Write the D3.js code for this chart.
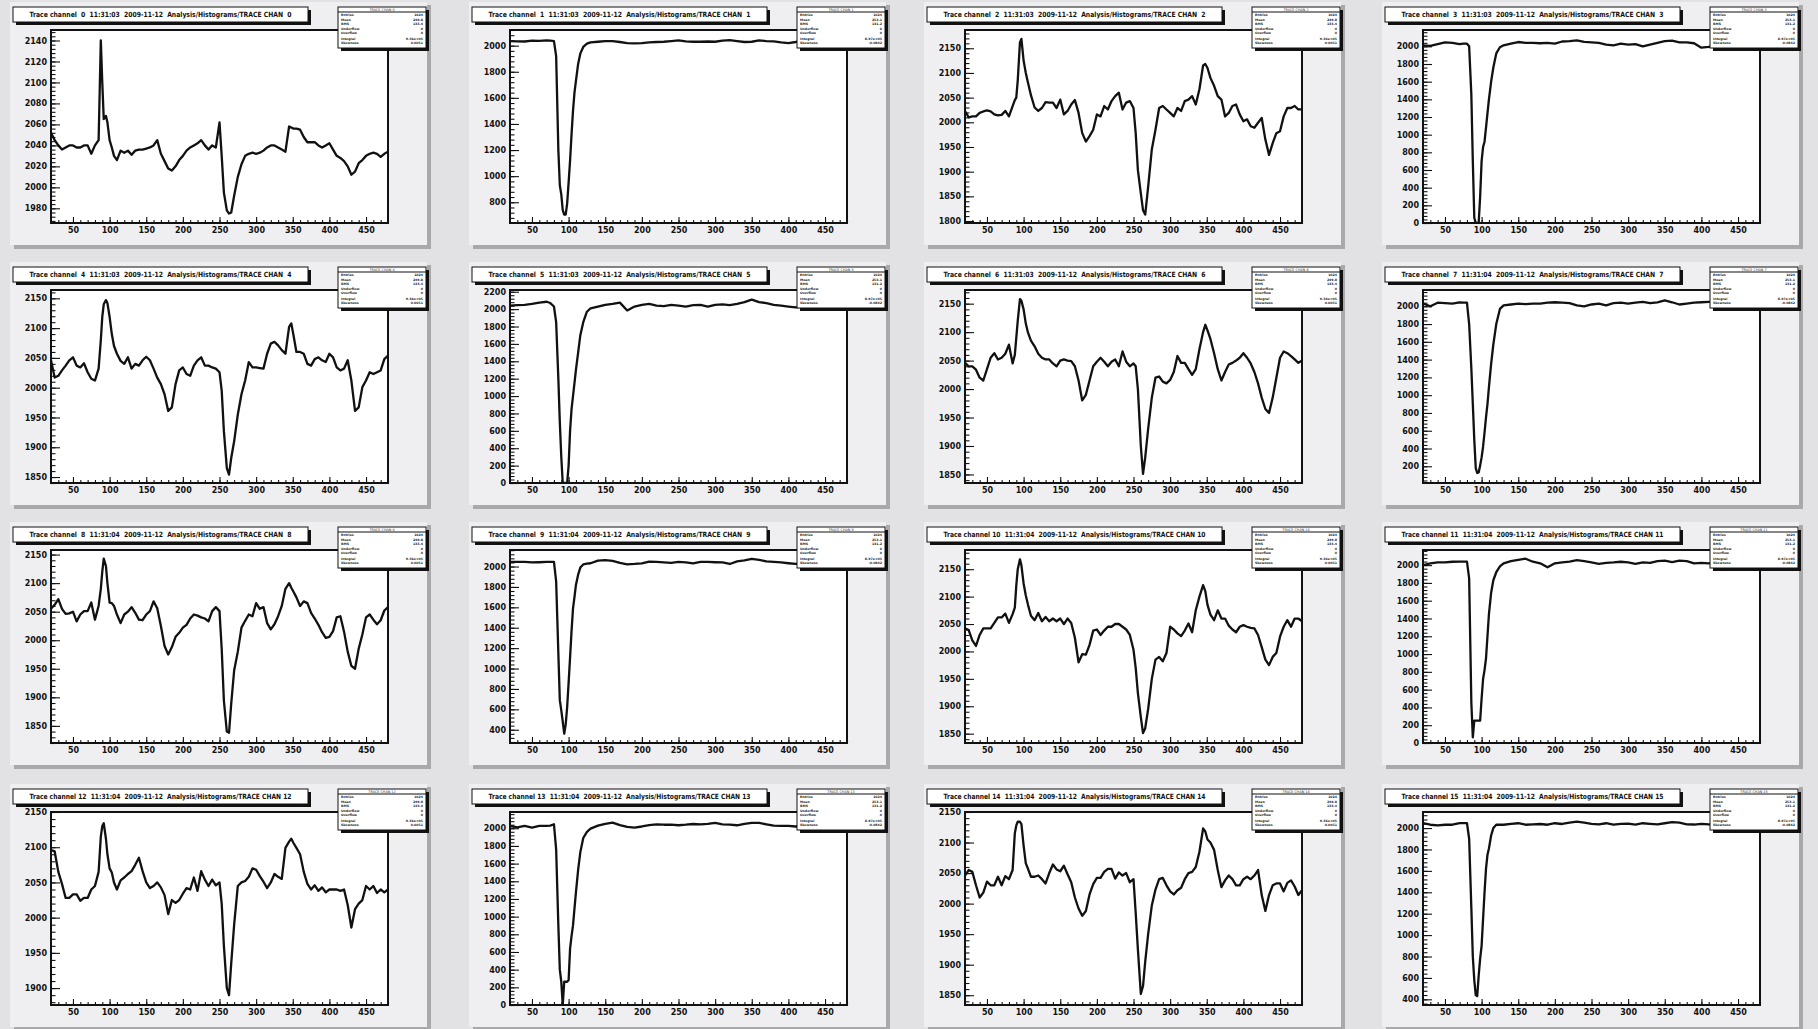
<!DOCTYPE html>
<html>
<head>
<meta charset="utf-8">
<script src="https://cdn.jsdelivr.net/npm/d3@7/dist/d3.min.js"></script>
<style>
body{margin:0;background:#e2e2e4;}
svg{display:block;}
text{font-family:"DejaVu Sans",sans-serif;}
</style>
</head>
<body>
<svg id="chart" width="1818" height="1029"></svg>
<script>
// ---------------- DATA ----------------
// sample positions (bin number) for the small-signal (even) and large-pulse (odd) channels
const evenX = [20,25,30,35,40,45,50,55,60,65, 70,75,80,85,88,90,92,95,97,100,
  103,106,110,115,120,125,130,135,140,145, 150,155,160,165,170,175,180,185,190,195,
  200,205,210,215,220,225,230,235,240,245, 250,253,256,260,263,266,270,275,280,285,
  290,295,300,305,310,315,320,325,330,335, 340,345,348,351,355,360,365,370,375,380,
  385,390,395,400,405,410,415,420,425,430, 435,440,445,450,455,460,465,470,475,480];
const oddX = [20,30,40,50,60,70,75,80,83,86, 88,90,92,94,96,98,100,102,104,106,
  108,110,113,116,120,125,130,140,150,160, 170,180,190,200,210,220,230,240,250,260,
  270,280,290,300,310,320,330,340,350,360, 370,380,390,400,410,420,430,440,450,460, 470,480];

const ch0 = [2052,2045,2040,2036,2038,2040,2040,2038,2038,2040, 2040,2032,2040,2045,2140,2100,2065,2068,2062,2045,
  2038,2030,2026,2035,2033,2035,2031,2035,2036,2036, 2037,2038,2040,2045,2032,2025,2018,2016,2020,2026,
  2030,2035,2038,2040,2042,2045,2040,2036,2040,2038, 2062,2030,1995,1978,1975,1976,1992,2010,2022,2030,
  2032,2033,2032,2033,2035,2038,2040,2040,2038,2036, 2034,2058,2057,2056,2056,2055,2048,2043,2043,2043,
  2040,2038,2040,2042,2036,2030,2028,2025,2020,2012, 2015,2023,2026,2030,2032,2033,2032,2029,2032,2034];
const ch2 = [2023,2010,2012,2012,2019,2022,2024,2022,2016,2014, 2015,2023,2012,2033,2045,2050,2085,2162,2169,2125,
  2100,2080,2055,2030,2023,2029,2041,2040,2040,2029, 2046,2016,2023,2036,2045,2019,1978,1961,1972,1985,
  2016,2012,2033,2026,2043,2053,2060,2026,2040,2043, 2029,1978,1903,1856,1822,1813,1869,1945,1985,2029,
  2033,2026,2019,2012,2029,2023,2043,2046,2053,2036, 2067,2115,2118,2110,2090,2074,2053,2046,2012,2019,
  2033,2036,2016,2002,2006,1992,1989,1999,2009,1965, 1934,1958,1978,1982,2012,2029,2029,2033,2026,2026];
const ch4 = [2046,2017,2020,2029,2037,2046,2051,2037,2034,2041, 2026,2015,2012,2032,2080,2119,2140,2147,2142,2119,
  2090,2070,2057,2045,2040,2051,2032,2040,2037,2046, 2052,2046,2032,2017,2006,1989,1961,1967,2006,2029,
  2034,2023,2020,2037,2046,2051,2037,2037,2034,2032, 2026,1995,1927,1865,1854,1882,1910,1955,1989,2012,
  2043,2034,2034,2033,2032,2057,2074,2077,2071,2063, 2057,2102,2108,2088,2060,2060,2057,2040,2037,2048,
  2051,2046,2043,2057,2051,2034,2029,2032,2046,2012, 1961,1967,2001,2012,2026,2023,2026,2029,2048,2054];
const ch6 = [2046,2040,2040,2034,2020,2015,2035,2055,2063,2052, 2055,2062,2078,2045,2060,2090,2120,2158,2155,2140,
  2115,2099,2085,2075,2062,2055,2052,2052,2045,2040, 2050,2052,2050,2049,2040,2015,1980,1990,2015,2040,
  2048,2055,2048,2040,2048,2052,2040,2066,2048,2040, 2045,2040,2000,1900,1851,1880,1930,1985,2020,2022,
  2013,2010,2016,2030,2058,2046,2046,2035,2025,2035, 2070,2100,2113,2103,2088,2063,2035,2015,2030,2043,
  2046,2050,2055,2063,2055,2045,2030,2010,1985,1965, 1958,1985,2020,2055,2066,2063,2058,2052,2046,2050];
const ch8 = [2055,2062,2072,2055,2046,2047,2050,2033,2045,2051, 2051,2066,2036,2060,2090,2120,2143,2130,2100,2066,
  2065,2060,2045,2030,2045,2050,2058,2048,2036,2035, 2045,2051,2068,2056,2025,1990,1975,1988,2006,2013,
  2022,2027,2038,2045,2043,2040,2038,2033,2051,2058, 2051,1985,1894,1840,1838,1889,1947,1980,2022,2034,
  2045,2042,2065,2055,2058,2030,2019,2028,2042,2060, 2090,2100,2092,2085,2075,2060,2068,2065,2048,2038,
  2027,2014,2004,2006,2016,2040,2042,2015,1980,1955, 1950,1985,2010,2040,2045,2036,2028,2035,2052,2058];
const ch10 = [2042,2039,2020,2010,2030,2042,2042,2042,2052,2062, 2062,2069,2052,2068,2080,2120,2150,2168,2157,2124,
  2102,2085,2065,2057,2070,2055,2063,2055,2060,2055, 2060,2050,2060,2052,2025,1980,1995,1994,2012,2038,
  2040,2030,2038,2045,2045,2050,2050,2045,2040,2030, 2003,1970,1924,1880,1851,1860,1895,1950,1985,1990,
  1982,1997,2045,2040,2033,2028,2038,2051,2035,2075, 2100,2121,2110,2085,2067,2057,2075,2060,2060,2047,
  2040,2035,2045,2048,2045,2043,2042,2030,2008,1985, 1975,1990,1997,2027,2045,2057,2045,2060,2060,2055];
const ch12 = [2096,2094,2065,2048,2028,2028,2033,2033,2024,2028, 2028,2040,2045,2065,2115,2130,2134,2112,2090,2070,
  2064,2050,2040,2053,2057,2062,2066,2075,2085,2066, 2050,2042,2045,2050,2043,2032,2005,2025,2021,2025,
  2034,2042,2040,2057,2038,2066,2054,2045,2054,2046, 2050,2020,1960,1900,1890,1935,1990,2045,2050,2052,
  2058,2070,2068,2059,2051,2042,2050,2062,2058,2055, 2099,2108,2112,2106,2099,2090,2065,2048,2040,2046,
  2038,2043,2036,2040,2040,2040,2038,2040,2018,1986, 2012,2020,2025,2045,2040,2045,2035,2040,2036,2040];
const ch14 = [2046,2055,2052,2030,2010,2018,2036,2030,2030,2044, 2030,2045,2040,2055,2115,2128,2134,2134,2130,2095,
  2066,2057,2044,2044,2046,2040,2033,2050,2064,2056, 2053,2062,2048,2035,2010,1992,1980,1988,2015,2032,
  2042,2042,2052,2057,2057,2041,2051,2046,2050,2035, 2040,1985,1925,1852,1865,1905,1950,1997,2023,2040,
  2042,2030,2020,2015,2022,2026,2040,2050,2052,2060, 2085,2123,2118,2105,2100,2088,2055,2027,2038,2046,
  2040,2030,2030,2040,2044,2040,2046,2055,2014,1988, 2014,2030,2033,2033,2020,2034,2038,2028,2014,2022];

const ch1 = [2035,2033,2032,2038,2036,2040,2038,2035,1920,1200, 930,860,740,705,705,790,950,1120,1320,1500,
  1640,1730,1860,1940,1990,2015,2025,2030,2035,2035, 2028,2020,2018,2020,2025,2028,2030,2035,2040,2033,
  2030,2030,2032,2030,2038,2043,2035,2028,2030,2040, 2035,2033,2025,2020,2028,2038,2040,2038,2035,2035, 2037,2035];
const ch3 = [2010,2005,2025,2045,2040,2025,2030,2030,2000,1450, 700,60,0,0,0,300,700,860,920,1080,
  1240,1400,1600,1760,1920,1990,2012,2030,2049,2040, 2040,2035,2040,2030,2055,2060,2068,2050,2045,2040,
  2020,2011,2030,2020,2025,2000,2020,2040,2060,2065, 2045,2045,2035,1985,1995,2015,2030,2040,2040,2030, 2040,2035];
const ch5 = [2040,2045,2050,2060,2075,2085,2070,2030,1850,1200, 700,300,0,0,0,0,200,600,850,1000,
  1150,1300,1500,1700,1850,1970,2010,2030,2050,2060, 2075,1985,2030,2050,2060,2040,2035,2050,2040,2030,
  2045,2050,2030,2050,2055,2045,2060,2080,2110,2080, 2070,2050,2040,2030,2020,2030,2040,2040,2040,2040, 2040,2040];
const ch7 = [2030,2000,2040,2035,2030,2045,2040,2040,1800,1300, 900,500,180,125,130,210,300,420,580,750,
  900,1090,1353,1570,1800,1970,2010,2020,2030,2025, 2030,2030,2040,2045,2040,2035,2010,2000,2020,2030,
  2010,2035,2040,2030,2040,2050,2035,2045,2065,2045, 2020,2030,2040,2045,2050,2050,2045,2040,2040,2040, 2040,2040];
const ch9 = [2045,2045,2045,2040,2042,2045,2045,2045,1854,1150, 690,590,480,361,450,620,860,1110,1367,1590,
  1700,1820,1920,1990,2020,2028,2032,2058,2062,2055, 2035,2022,2025,2030,2048,2045,2040,2035,2045,2040,
  2030,2045,2045,2042,2040,2025,2050,2060,2075,2065, 2050,2045,2040,2032,2025,2030,2030,2035,2035,2035, 2035,2035];
const ch11 = [2000,2019,2030,2030,2038,2040,2040,2040,1850,450, 64,252,252,252,252,252,500,720,820,950,
  1200,1450,1690,1830,1920,1985,2020,2045,2060,2072, 2038,2020,1975,2020,2030,2040,2055,2045,2030,2015,
  2025,2030,2038,2030,2015,2030,2025,2045,2050,2035, 2050,2045,2020,2025,2020,2030,2030,2030,2030,2030, 2030,2030];
const ch13 = [2026,2010,2026,2007,2026,2026,2030,2045,1760,900, 400,263,0,263,263,263,280,638,780,900,
  1090,1275,1530,1730,1890,1960,1996,2030,2050,2064, 2035,2015,2007,2020,2035,2045,2040,2040,2034,2040,
  2048,2045,2050,2062,2045,2040,2034,2050,2060,2060, 2045,2030,2026,2026,2020,2030,2030,2030,2030,2030, 2030,2030];
const ch15 = [2047,2031,2025,2031,2031,2047,2047,2047,1900,1250, 800,580,440,430,620,780,900,1150,1400,1620,
  1750,1810,1930,2000,2031,2031,2031,2040,2045,2031, 2035,2038,2031,2045,2038,2050,2060,2050,2040,2035,
  2045,2032,2040,2042,2032,2045,2040,2035,2045,2055, 2050,2035,2033,2040,2035,2030,2030,2030,2030,2030, 2030,2030];

const traces = [ch0,ch1,ch2,ch3,ch4,ch5,ch6,ch7,ch8,ch9,ch10,ch11,ch12,ch13,ch14,ch15];
const yDomains = [[1966,2150],[641,2120],[1796,2187],[0,2185],[1840,2164],[0,2220],[1835,2174],[12,2183],
                  [1820,2158],[270,2162],[1833,2185],[0,2170],[1876,2150],[0,2184],[1834,2150],[347,2150]];
const yTickStep = [20,200,50,200,50,200,50,200,50,200,50,200,50,200,50,200];
const xDomain = [20,480];
const xTicks = [50,100,150,200,250,300,350,400,450];
const times = ["11:31:03","11:31:03","11:31:03","11:31:03","11:31:03","11:31:03","11:31:03","11:31:04",
               "11:31:04","11:31:04","11:31:04","11:31:04","11:31:04","11:31:04","11:31:04","11:31:04"];
const dateLabel = "2009-11-12";
const statNames = ["Entries","Mean","RMS","Underflow","Overflow","Integral","Skewness"];
const statEven = ["1024","249.8","133.4","0","0","9.36e+05","0.0051"];
const statOdd  = ["1024","253.1","131.2","0","0","8.97e+05","-0.0842"];

// ---------------- DRAWING ----------------
const svg = d3.select("#chart");
svg.append("rect").attr("width",1818).attr("height",1029).attr("fill","#e2e2e4");
const defs = svg.append("defs");

const colX = [51,510,965,1423], rowY = [30,290,550,812], FW = 337, FH = 193;

traces.forEach((vals, i) => {
  const fx = colX[i % 4], fy = rowY[Math.floor(i / 4)];
  const xs = (i % 2 === 0) ? evenX : oddX;
  const x = d3.scaleLinear().domain(xDomain).range([fx, fx + FW]);
  const y = d3.scaleLinear().domain(yDomains[i]).range([fy + FH, fy]);
  const g = svg.append("g");

  // pad with bevel shadow
  g.append("rect").attr("x", fx - 37).attr("y", fy - 25).attr("width", FW + 80).attr("height", FH + 51).attr("fill", "#a9a9ac");
  g.append("rect").attr("x", fx - 41).attr("y", fy - 28).attr("width", FW + 80).attr("height", FH + 50).attr("fill", "#efeff1");

  // frame background
  g.append("rect").attr("x", fx).attr("y", fy).attr("width", FW).attr("height", FH).attr("fill", "#fff");

  // trace
  defs.append("clipPath").attr("id", "clip" + i)
    .append("rect").attr("x", fx).attr("y", fy).attr("width", FW).attr("height", FH);
  const line = d3.line().x((d, k) => x(xs[k])).y(d => y(d));
  g.append("path").datum(vals).attr("d", line).attr("clip-path", "url(#clip" + i + ")")
    .attr("fill", "none").attr("stroke", "#111").attr("stroke-width", 2.3).attr("stroke-linejoin", "round");

  // axes
  const step = yTickStep[i];
  const [y0, y1] = yDomains[i];
  const yMaj = d3.range(Math.ceil(y0 / step) * step, y1 + 0.001, step);
  const ms = step / 5;
  const yMin = d3.range(Math.ceil(y0 / ms) * ms, y1 + 0.001, ms);
  const xMin = d3.range(30, 481, 10);

  const ya = g.append("g").attr("transform", `translate(${fx},0)`)
    .call(d3.axisLeft(y).tickValues(yMin).tickSize(-4.5).tickFormat(""));
  ya.select(".domain").remove();
  const yb = g.append("g").attr("transform", `translate(${fx},0)`)
    .call(d3.axisLeft(y).tickValues(yMaj).tickSize(-9).tickPadding(4).tickFormat(d3.format("d")));
  yb.select(".domain").remove();
  yb.selectAll("text").attr("font-family", "DejaVu Sans").attr("font-weight", "bold").attr("font-size", 8).attr("fill", "#111");

  const xa = g.append("g").attr("transform", `translate(0,${fy + FH})`)
    .call(d3.axisBottom(x).tickValues(xMin).tickSize(-3).tickFormat(""));
  xa.select(".domain").remove();
  const xb = g.append("g").attr("transform", `translate(0,${fy + FH})`)
    .call(d3.axisBottom(x).tickValues(xTicks).tickSize(-6).tickPadding(4));
  xb.select(".domain").remove();
  xb.selectAll("text").attr("font-family", "DejaVu Sans").attr("font-weight", "bold").attr("font-size", 8).attr("fill", "#111");
  g.selectAll(".tick line").attr("stroke", "#111").attr("stroke-width", 1.1);

  // frame border
  g.append("rect").attr("x", fx).attr("y", fy).attr("width", FW).attr("height", FH)
    .attr("fill", "none").attr("stroke", "#111").attr("stroke-width", 2);

  // title box
  const n = i < 10 ? " " + i : "" + i;
  const title = `Trace channel ${n}  ${times[i]}  ${dateLabel}  Analysis/Histograms/TRACE CHAN ${n}`;
  const tx = fx - 38, ty = fy - 23, tw = 295, th = 15;
  g.append("rect").attr("x", tx + 3).attr("y", ty + 3).attr("width", tw).attr("height", th).attr("fill", "#111");
  g.append("rect").attr("x", tx).attr("y", ty).attr("width", tw).attr("height", th)
    .attr("fill", "#fff").attr("stroke", "#111").attr("stroke-width", 1);
  g.append("text").attr("x", tx + tw / 2).attr("y", ty + th / 2 + 2.6).attr("text-anchor", "middle")
    .attr("font-size", 7.2).attr("font-weight", "bold").attr("fill", "#111")
    .attr("textLength", 262).attr("lengthAdjust", "spacingAndGlyphs")
    .style("white-space", "pre").text(title);

  // stats box
  const sx = fx + FW - 50, sy = fy - 23, sw = 88, sh = 41;
  g.append("rect").attr("x", sx + 3).attr("y", sy + 3).attr("width", sw).attr("height", sh).attr("fill", "#111");
  g.append("rect").attr("x", sx).attr("y", sy).attr("width", sw).attr("height", sh)
    .attr("fill", "#fff").attr("stroke", "#111").attr("stroke-width", 1);
  g.append("text").attr("x", sx + sw / 2).attr("y", sy + 3.6).attr("text-anchor", "middle")
    .attr("font-size", 3.4).attr("fill", "#333").text("TRACE CHAN " + i);
  g.append("line").attr("x1", sx).attr("x2", sx + sw).attr("y1", sy + 5).attr("y2", sy + 5)
    .attr("stroke", "#111").attr("stroke-width", 1.2);
  const sv = (i % 2 === 0) ? statEven : statOdd;
  const rowsY = [9, 13.5, 18, 22.5, 27, 32.5, 36.5];
  statNames.forEach((nm, k) => {
    g.append("text").attr("x", sx + 3).attr("y", sy + rowsY[k]).attr("font-size", 3.2)
      .attr("font-weight", "bold").attr("fill", "#222").text(nm);
    g.append("text").attr("x", sx + sw - 3).attr("y", sy + rowsY[k]).attr("text-anchor", "end")
      .attr("font-size", 3.2).attr("font-weight", "bold").attr("fill", "#222").text(sv[k]);
  });
});
</script>
</body>
</html>
